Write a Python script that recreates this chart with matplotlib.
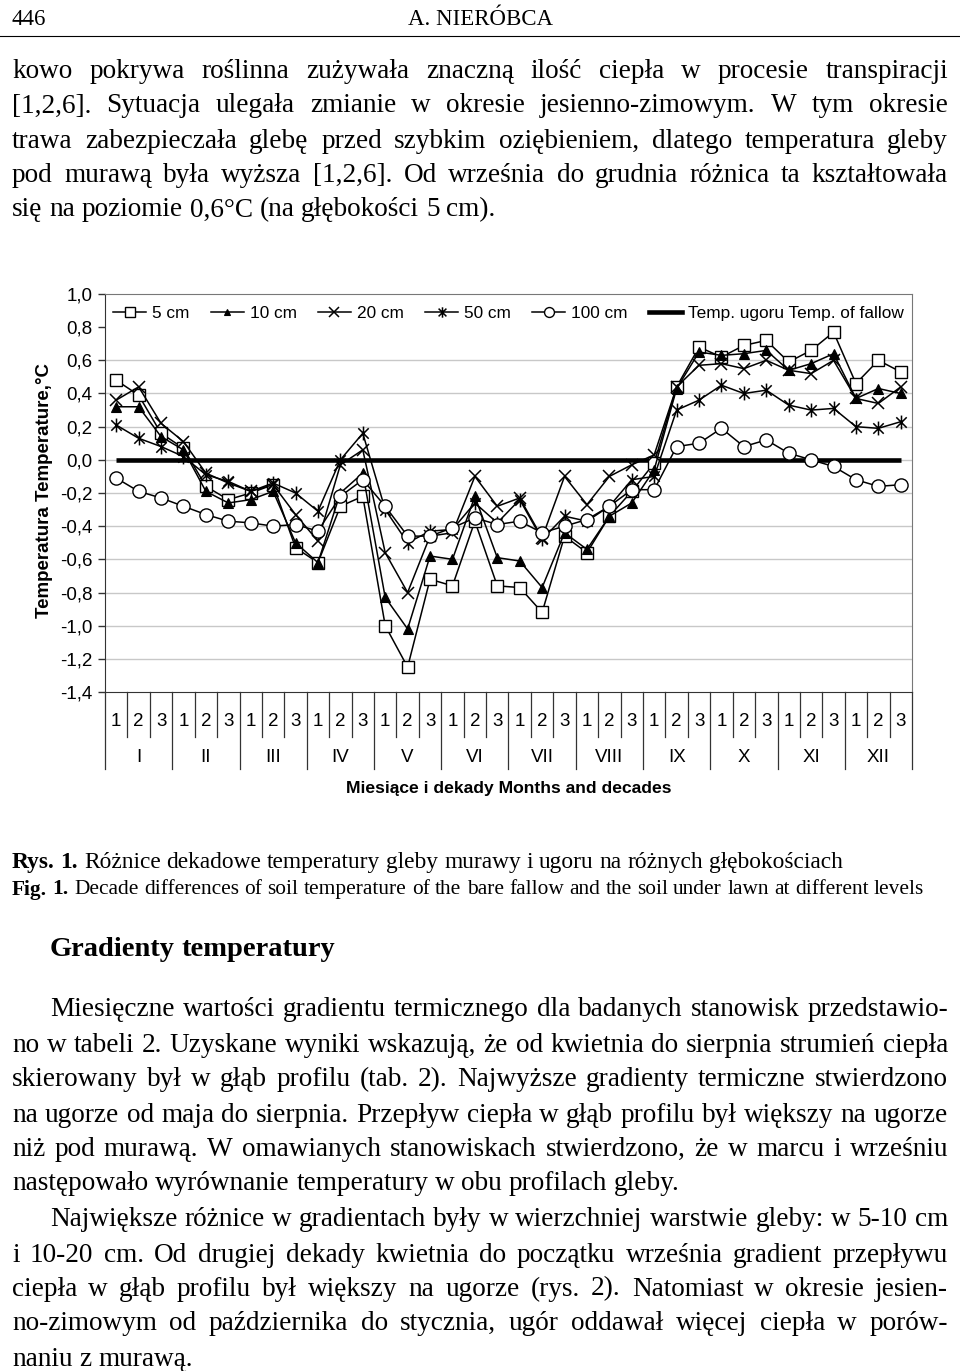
import numpy as np
import matplotlib.pyplot as plt
import matplotlib.transforms as mtransforms
from matplotlib.lines import Line2D
from matplotlib.path import Path

W, H = 960, 1371
SERIF = 'Liberation Serif'
SANS = ['Liberation Sans Narrow', 'Liberation Sans']

# --- data: decade differences (lawn - fallow), deg C ---
decades = ['1', '2', '3'] * 12
months = ['I', 'II', 'III', 'IV', 'V', 'VI', 'VII', 'VIII', 'IX', 'X', 'XI', 'XII']

d5 = [0.48, 0.39, 0.16, 0.07, -0.16, -0.24, -0.20, -0.15, -0.53, -0.62, -0.28, -0.22,
      -1.00, -1.25, -0.72, -0.76, -0.37, -0.76, -0.77, -0.92, -0.46, -0.56, -0.34, -0.19,
      -0.02, 0.44, 0.68, 0.62, 0.69, 0.72, 0.59, 0.66, 0.77, 0.46, 0.60, 0.53]
d10 = [0.32, 0.32, 0.14, 0.06, -0.19, -0.26, -0.24, -0.19, -0.50, -0.62, -0.20, -0.08,
       -0.83, -1.02, -0.58, -0.60, -0.22, -0.59, -0.61, -0.77, -0.44, -0.54, -0.34, -0.26,
       -0.06, 0.43, 0.65, 0.63, 0.64, 0.66, 0.54, 0.58, 0.64, 0.37, 0.43, 0.40]
d20 = [0.36, 0.44, 0.22, 0.11, -0.08, -0.14, -0.19, -0.15, -0.33, -0.49, -0.03, 0.06,
       -0.56, -0.80, -0.46, -0.44, -0.10, -0.28, -0.23, -0.47, -0.10, -0.27, -0.10, -0.03,
       0.03, 0.44, 0.57, 0.58, 0.55, 0.60, 0.54, 0.52, 0.60, 0.37, 0.34, 0.44]
d50 = [0.21, 0.13, 0.08, 0.02, -0.09, -0.13, -0.19, -0.14, -0.20, -0.31, 0.00, 0.16,
       -0.30, -0.50, -0.43, -0.42, -0.26, -0.38, -0.24, -0.48, -0.34, -0.37, -0.28, -0.12,
       -0.10, 0.30, 0.36, 0.45, 0.40, 0.42, 0.33, 0.30, 0.31, 0.20, 0.19, 0.23]
d100 = [-0.11, -0.19, -0.23, -0.28, -0.33, -0.37, -0.38, -0.40, -0.39, -0.43, -0.22, -0.12,
        -0.28, -0.46, -0.46, -0.41, -0.35, -0.39, -0.37, -0.44, -0.40, -0.36, -0.28, -0.18,
        -0.18, 0.08, 0.10, 0.19, 0.08, 0.12, 0.04, 0.00, -0.04, -0.12, -0.16, -0.15]
fallow = [0.0] * 36

series_labels = ['5 cm', '10 cm', '20 cm', '50 cm', '100 cm', 'Temp. ugoru Temp. of fallow']

# asterisk marker like in Excel: X plus vertical bar
asterisk = Path([(0, -1), (0, 1), (-0.75, -0.75), (0.75, 0.75), (-0.75, 0.75), (0.75, -0.75)],
                [Path.MOVETO, Path.LINETO, Path.MOVETO, Path.LINETO, Path.MOVETO, Path.LINETO])

styles = [
    dict(marker='s', ms=9, mfc='white', mec='black', mew=1.0),
    dict(marker='^', ms=6.5, mfc='black', mec='black', mew=0.8),
    dict(marker='x', ms=9, mec='black', mew=1.1),
    dict(marker=asterisk, ms=10, mec='black', mew=1.1),
    dict(marker='o', ms=9.5, mfc='white', mec='black', mew=1.0),
]

fig = plt.figure(figsize=(W / 100, H / 100), dpi=100)
renderer = fig.canvas.get_renderer()


def fx(px):
    return px / W


def fyp(px):
    return 1 - px / H


# ---------------- chart ----------------
ax = fig.add_axes([fx(105), fyp(692), (912 - 105) / W, (692 - 294) / H])
x = np.arange(36)

ax.plot(x, fallow, color='black', lw=3.3, zorder=2, solid_capstyle='butt')
for vals, st in zip([d5, d10, d20, d50, d100], styles):
    ax.plot(x, vals, color='black', lw=1.1, zorder=3, **st)

ax.set_xlim(-0.5, 35.5)
ax.set_ylim(-1.4, 1.0)
yt = np.round(np.arange(-1.4, 1.01, 0.2), 1)
ax.set_yticks(yt)
ax.set_yticklabels([f'{v:.1f}'.replace('.', ',') if abs(v) > 1e-9 else '0,0' for v in yt],
                   fontsize=13.5, family=SANS)
ax.tick_params(axis='y', direction='out', length=5, width=1, color='#333', pad=4)
ax.set_xticks([])
for v in yt:
    if -1.3 < v < 0.7:
        ax.axhline(v, color='#c8c8c8', lw=1, zorder=1)
for s in ['left', 'bottom']:
    ax.spines[s].set_color('#333')
for s in ['top', 'right']:
    ax.spines[s].set_color('#777')

# multi-level category axis
trans = mtransforms.blended_transform_factory(ax.transData, ax.transAxes)


def fy(ypx):
    return (692 - ypx) / 398


for k in range(37):
    y_end = 769 if k % 3 == 0 else 737
    ax.plot([k - 0.5, k - 0.5], [0, fy(y_end)], transform=trans, color='#333', lw=0.9, clip_on=False)
for i, lab in enumerate(decades):
    ax.text(i, fy(722), lab, transform=trans, ha='center', va='center', fontsize=13.5, family=SANS)
for m, lab in enumerate(months):
    ax.text(3 * m + 1, fy(757), lab, transform=trans, ha='center', va='center', fontsize=13.5, family=SANS)

fig.text(fx(509), fyp(789), 'Miesiące i dekady Months and decades', ha='center', va='center',
         fontsize=12.6, fontweight='bold', family=SANS)
fig.text(fx(45), fyp(490), 'Temperatura Temperature,°C', rotation=90, ha='center', va='center',
         fontsize=13.5, fontweight='bold', family=SANS)

handles = [Line2D([], [], color='black', lw=1.1, **st) for st in styles]
handles.append(Line2D([], [], color='black', lw=3.3))
ax.legend(handles, series_labels, loc='center', bbox_to_anchor=(0.5, fy(313)), ncol=6, frameon=False,
          prop={'family': SANS, 'size': 12.4}, handlelength=1.9, handletextpad=0.35, columnspacing=1.25,
          markerscale=0.75, borderaxespad=0)


# ---------------- page text ----------------
def put_line(y, x0, segments, size, x1=None):
    words = []
    for s, w in segments:
        for word in s.split():
            words.append((word, w))
    texts, widths = [], []
    for word, w in words:
        t = fig.text(0, fyp(y), word, fontsize=size, fontweight=w, family=SERIF,
                     ha='left', va='center_baseline')
        texts.append(t)
        widths.append(t.get_window_extent(renderer).width)
    gap = 0.25 * size * 100 / 72
    if x1 is not None and len(words) > 1:
        gap = (x1 - x0 - sum(widths)) / (len(words) - 1)
    xx = x0
    for t, wd in zip(texts, widths):
        t.set_x(fx(xx))
        xx += wd + gap


HEAD = 16.5
BODY = 19.6
fig.text(fx(12), fyp(17), '446', fontsize=HEAD, family=SERIF, ha='left', va='center_baseline')
fig.text(fx(480), fyp(17), 'A. NIERÓBCA', fontsize=HEAD, family=SERIF, ha='center', va='center_baseline')
fig.add_artist(Line2D([0, 1], [fyp(36), fyp(36)], color='black', lw=0.8))

top_lines = [
    ('kowo pokrywa roślinna zużywała znaczną ilość ciepła w procesie transpiracji', True),
    ('[1,2,6]. Sytuacja ulegała zmianie w okresie jesienno-zimowym. W tym okresie', True),
    ('trawa zabezpieczała glebę przed szybkim oziębieniem, dlatego temperatura gleby', True),
    ('pod murawą była wyższa [1,2,6]. Od września do grudnia różnica ta kształtowała', True),
    ('się na poziomie 0,6°C (na głębokości 5 cm).', False),
]
top_y = [68, 103, 138, 172, 207]
for (txt, just), y in zip(top_lines, top_y):
    put_line(y, 12, [(txt, 'normal')], BODY, 948 if just else None)

put_line(860, 12, [('Rys. 1.', 'bold'),
                   ('Różnice dekadowe temperatury gleby murawy i ugoru na różnych głębokościach', 'normal')], 16.8)
put_line(887, 12, [('Fig. 1.', 'bold'),
                   ('Decade differences of soil temperature of the bare fallow and the soil under lawn '
                    'at different levels', 'normal')], 15.4)

put_line(947, 50, [('Gradienty temperatury', 'bold')], 20.5)

bottom_lines = [
    ('Miesięczne wartości gradientu termicznego dla badanych stanowisk przedstawio-', 50, True),
    ('no w tabeli 2. Uzyskane wyniki wskazują, że od kwietnia do sierpnia strumień ciepła', 12, True),
    ('skierowany był w głąb profilu (tab. 2). Najwyższe gradienty termiczne stwierdzono', 12, True),
    ('na ugorze od maja do sierpnia. Przepływ ciepła w głąb profilu był większy na ugorze', 12, True),
    ('niż pod murawą. W omawianych stanowiskach stwierdzono, że w marcu i wrześniu', 12, True),
    ('następowało wyrównanie temperatury w obu profilach gleby.', 12, False),
    ('Największe różnice w gradientach były w wierzchniej warstwie gleby: w 5-10 cm', 50, True),
    ('i 10-20 cm. Od drugiej dekady kwietnia do początku września gradient przepływu', 12, True),
    ('ciepła w głąb profilu był większy na ugorze (rys. 2). Natomiast w okresie jesien-', 12, True),
    ('no-zimowym od października do stycznia, ugór oddawał więcej ciepła w porów-', 12, True),
    ('naniu z murawą.', 12, False),
]
bottom_y = [1007, 1042, 1077, 1112, 1146, 1181, 1217, 1252, 1286, 1321, 1356]
for (txt, x0, just), y in zip(bottom_lines, bottom_y):
    put_line(y, x0, [(txt, 'normal')], BODY, 948 if just else None)

fig.savefig('out.png', dpi=100, facecolor='white')
